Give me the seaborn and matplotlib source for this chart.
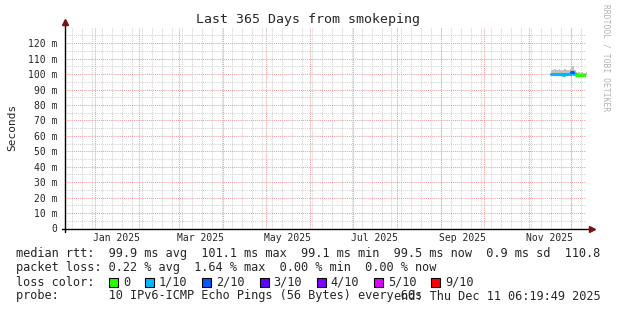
import numpy as np
import pandas as pd
import matplotlib
matplotlib.use("Agg")
import matplotlib.pyplot as plt
from matplotlib.patches import Rectangle
import seaborn as sns

# ---------------- data ----------------
start_date = "2025-11-17"
median_ms = [100.0, 99.9, 100.1, 99.8, 100.0, 99.9, 100.2, 99.8, 99.7, 100.0,
             99.9, 100.1, 99.8, 100.0, 101.1, 100.6, 100.3, 99.6, 99.4, 99.5,
             99.3, 99.6, 99.1, 99.4, 99.5]
smoke_hi_ms = [102.4, 102.8, 103.0, 102.6, 102.8, 103.1, 102.9, 102.7, 102.8, 103.0,
               102.6, 102.8, 102.9, 103.3, 104.6, 105.2, 102.4, 101.4, 101.0, 101.2,
               100.9, 101.3, 100.8, 101.0, 101.1]
smoke_lo_ms = [99.7, 99.6, 99.8, 99.5, 99.7, 99.6, 99.9, 99.5, 99.4, 99.7,
               99.6, 99.8, 99.5, 99.7, 100.6, 100.2, 99.9, 99.3, 99.1, 99.2,
               99.0, 99.3, 98.9, 99.1, 99.2]
loss_level = ["1/10"] * 14 + ["2/10"] + ["1/10"] * 2 + ["0"] * 8

loss_labels = ["0", "1/10", "2/10", "3/10", "4/10", "5/10", "9/10"]
loss_colors = ["#26ff00", "#00b8ff", "#0059ff", "#5e00ff", "#7e00ff", "#dd00ff", "#ff0000"]

yticks_ms = [0, 10, 20, 30, 40, 50, 60, 70, 80, 90, 100, 110, 120]
xlabel_months = ["2025-01-16", "2025-03-16", "2025-05-16", "2025-07-16", "2025-09-16", "2025-11-16"]
xlabel_text = ["Jan 2025", "Mar 2025", "May 2025", "Jul 2025", "Sep 2025", "Nov 2025"]

title = "Last 365 Days from smokeping"
stat_lines = [
    "median rtt:  99.9 ms avg  101.1 ms max  99.1 ms min  99.5 ms now  0.9 ms sd  110.8",
    "packet loss: 0.22 % avg  1.64 % max  0.00 % min  0.00 % now",
]
probe_text = "probe:       10 IPv6-ICMP Echo Pings (56 Bytes) every 60s"
end_text = "end: Thu Dec 11 06:19:49 2025"

t_start = pd.Timestamp("2024-12-11 06:19:49")
t_end = pd.Timestamp("2025-12-11 06:19:49")

# ---------------- figure ----------------
sns.set_style("white")
plt.rcParams["font.family"] = ["DejaVu Sans Mono", "DejaVu Sans"]

W, H = 617, 310
fig = plt.figure(figsize=(W / 100, H / 100), dpi=100)
L, R, T, B = 65, 586, 27, 228.5
ax = fig.add_axes([L / W, 1 - B / H, (R - L) / W, (B - T) / H])
ax.set_facecolor("white")

dates = pd.date_range(start_date, periods=len(median_ms), freq="D")
med = np.array(median_ms) / 1000.0
hi = np.array(smoke_hi_ms) / 1000.0
lo = np.array(smoke_lo_ms) / 1000.0

# grid
minor_c = "#d2d2d2"
major_c = "#eda0a0"
dot = (0, (1, 1))
for v in np.arange(0.005, 0.131, 0.01):
    ax.axhline(v, color=minor_c, lw=0.75, ls=dot, zorder=0)
for v in yticks_ms[1:]:
    ax.axhline(v / 1000.0, color=major_c, lw=0.75, ls=dot, zorder=0.5)
weeks = pd.date_range("2024-12-16", t_end, freq="7D")
for d in weeks:
    ax.axvline(d, color=minor_c, lw=0.75, ls=dot, zorder=0)
months = pd.date_range("2025-01-01", t_end, freq="MS")
for d in months:
    ax.axvline(d, color=major_c, lw=0.75, ls=dot, zorder=0.5)

# smoke
dates_ext = dates.append(pd.DatetimeIndex([dates[-1] + pd.Timedelta(days=1)]))
ax.fill_between(dates_ext, np.append(lo, lo[-1]), np.append(hi, hi[-1]),
                step="post", color="#c2c2c2", lw=0, zorder=2)

# median line, one flat segment per day coloured by loss
rows = []
for i, d in enumerate(dates):
    rows.append({"t": d, "v": med[i], "seg": i, "loss": loss_level[i]})
    rows.append({"t": d + pd.Timedelta(days=1), "v": med[i], "seg": i, "loss": loss_level[i]})
df = pd.DataFrame(rows)
sns.lineplot(data=df, x="t", y="v", units="seg", estimator=None, hue="loss",
             palette=dict(zip(loss_labels, loss_colors)), lw=2.2, legend=False,
             ax=ax, zorder=3)

ax.set_xlim(t_start, t_end)
ax.set_ylim(0, 0.1305)
ax.set_xlabel("")
ax.set_ylabel("Seconds", fontsize=8)
ax.yaxis.set_label_coords(-(L - 17) / (R - L), 0.5)

ax.set_yticks([v / 1000.0 for v in yticks_ms])
ax.set_yticklabels(["0"] + [f"{v} m" for v in yticks_ms[1:]], fontsize=7)
ax.set_xticks(pd.to_datetime(xlabel_months))
ax.set_xticklabels(xlabel_text, fontsize=7)
ax.tick_params(axis="y", length=4, width=0.8, color="#555555", pad=1.5, direction="out")
ax.tick_params(axis="x", length=0, pad=3.5)
for s in ax.spines.values():
    s.set_visible(False)

# axes with arrows
axw = R - L
axh = B - T
ax.plot([-3 / axw, 1 + 6 / axw], [0, 0], transform=ax.transAxes, color="black",
        lw=1.0, clip_on=False, zorder=5)
ax.plot([0, 0], [-3 / axh, 1 + 5 / axh], transform=ax.transAxes, color="black",
        lw=1.0, clip_on=False, zorder=5)
ax.plot([1 + 6 / axw], [0], transform=ax.transAxes, marker=">", ms=4.5,
        color="#7a1010", clip_on=False, zorder=6)
ax.plot([0], [1 + 5 / axh], transform=ax.transAxes, marker="^", ms=4.5,
        color="#7a1010", clip_on=False, zorder=6)

# title and watermark
fig.text(308 / W, 1 - 19 / H, title, ha="center", va="center", fontsize=9.5)
fig.text(606 / W, 1 - 4 / H, "RRDTOOL / TOBI OETIKER", rotation=-90, ha="center",
         va="top", fontsize=5.8, color="#b4b4b4")

# legend / statistics text
fs = 8.55
cw = fs * 100 / 72 * 0.602
x0 = 16
rows_y = [254, 268, 282, 296]
for line, yy in zip(stat_lines, rows_y[:2]):
    fig.text(x0 / W, 1 - yy / H, line, ha="left", va="center", fontsize=fs)
fig.text(x0 / W, 1 - rows_y[2] / H, "loss color:", ha="left", va="center", fontsize=fs)
idx = 13
for lab, col in zip(loss_labels, loss_colors):
    sx = x0 + idx * cw
    fig.patches.append(Rectangle(((sx + 0.5) / W, 1 - (rows_y[2] + 4.5) / H), 9 / W, 9 / H,
                                 transform=fig.transFigure, facecolor=col,
                                 edgecolor="black", lw=0.8))
    fig.text((x0 + (idx + 2) * cw) / W, 1 - rows_y[2] / H, lab, ha="left", va="center",
             fontsize=fs)
    idx += 2 + len(lab) + 2
fig.text(x0 / W, 1 - rows_y[3] / H, probe_text, ha="left", va="center", fontsize=fs)
fig.text(601 / W, 1 - rows_y[3] / H, end_text, ha="right", va="center", fontsize=fs)

fig.savefig("out.png", dpi=100, facecolor="white")
